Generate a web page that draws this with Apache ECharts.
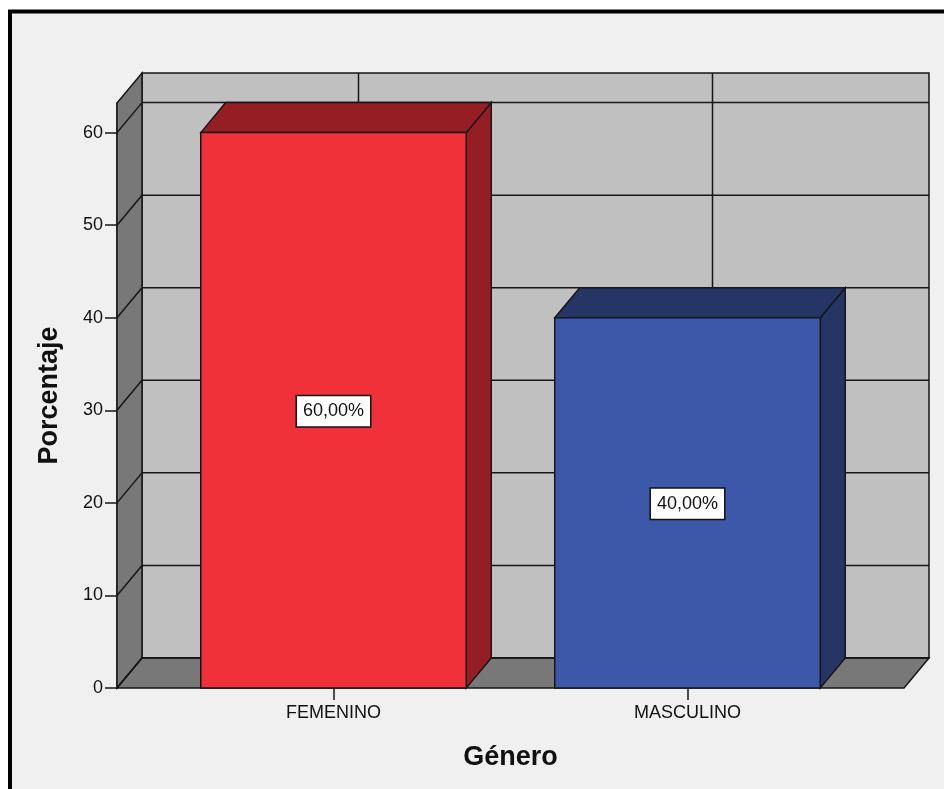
<!DOCTYPE html>
<html>
<head>
<meta charset="utf-8">
<script src="https://cdn.jsdelivr.net/npm/echarts@6/dist/echarts.min.js"></script>
<style>
  html, body { margin: 0; padding: 0; background: #ffffff; }
  #chart { width: 944px; height: 789px; }
</style>
</head>
<body>
<div id="chart"></div>
<script>
// ---- data ----
const categories = ['FEMENINO', 'MASCULINO'];
const percentages = [60, 40];
const yTicks = [0, 10, 20, 30, 40, 50, 60];
const yMax = 63.2;
const yTitle = 'Porcentaje';
const xTitle = 'Género';

// ---- style constants ----
const FONT = '"Liberation Sans", Arial, sans-serif';
const DX = 25, DY = -30;          // 3D depth offset (px)
const SIDE_PAD = 0.1116;          // floor padding beyond first/last band (fraction of band)
const BAR_RATIO = 0.75;
const LINE = '#161616';
const LW = 1.5;
const barFront = ['#f0313a', '#3d57a9'];
const barDark = ['#951e24', '#243566'];

function fmtPct(v) { return v.toFixed(2).replace('.', ',') + '%'; }

function renderWalls(params, api) {
  const cs = params.coordSys;
  const band = api.size([1, 0])[0];
  const pad = band * SIDE_PAD;
  const xL = cs.x - pad, xR = cs.x + cs.width + pad;
  const y0 = api.coord([0, 0])[1];
  const yT = cs.y;
  const st = { stroke: LINE, lineWidth: LW };
  const children = [];
  // back wall
  children.push({ type: 'rect', shape: { x: xL + DX, y: yT + DY, width: xR - xL, height: y0 - yT },
    style: Object.assign({ fill: '#c0c0c0' }, st) });
  // left side wall
  children.push({ type: 'polygon', shape: { points: [[xL, yT], [xL + DX, yT + DY], [xL + DX, y0 + DY], [xL, y0]] },
    style: Object.assign({ fill: '#787878' }, st) });
  // floor
  children.push({ type: 'polygon', shape: { points: [[xL, y0], [xL + DX, y0 + DY], [xR + DX, y0 + DY], [xR, y0]] },
    style: Object.assign({ fill: '#787878' }, st) });
  // grid lines
  yTicks.forEach(function (t) {
    const y = api.coord([0, t])[1];
    children.push({ type: 'line', shape: { x1: xL + DX, y1: y + DY, x2: xR + DX, y2: y + DY }, style: st });
    children.push({ type: 'line', shape: { x1: xL, y1: y, x2: xL + DX, y2: y + DY }, style: st });
  });
  categories.forEach(function (c, i) {
    const x = api.coord([i, 0])[0] + DX;
    children.push({ type: 'line', shape: { x1: x, y1: yT + DY, x2: x, y2: y0 + DY }, style: st });
  });
  return { type: 'group', children: children };
}

function renderBar(params, api) {
  const i = api.value(0), v = api.value(1);
  const p = api.coord([i, v]);
  const cx = p[0], yv = p[1];
  const y0 = api.coord([i, 0])[1];
  const yMid = api.coord([i, v / 2])[1];
  const bw = api.size([1, 0])[0] * BAR_RATIO;
  const l = cx - bw / 2, r = cx + bw / 2;
  const st = { stroke: LINE, lineWidth: LW };
  return {
    type: 'group',
    children: [
      { type: 'polygon', shape: { points: [[r, yv], [r + DX, yv + DY], [r + DX, y0 + DY], [r, y0]] },
        style: Object.assign({ fill: barDark[i] }, st) },
      { type: 'polygon', shape: { points: [[l, yv], [l + DX, yv + DY], [r + DX, yv + DY], [r, yv]] },
        style: Object.assign({ fill: barDark[i] }, st) },
      { type: 'rect', shape: { x: l, y: yv, width: bw, height: y0 - yv },
        style: Object.assign({ fill: barFront[i] }, st) },
      { type: 'text', x: cx, y: yMid + 1,
        style: { text: fmtPct(v), align: 'center', verticalAlign: 'middle',
          font: '18px ' + FONT, fill: '#111', backgroundColor: '#ffffff',
          borderColor: '#111', borderWidth: 1.5, padding: [6, 6, 6, 6] } }
    ]
  };
}

const chart = echarts.init(document.getElementById('chart'));
chart.setOption({
  animation: false,
  backgroundColor: 'transparent',
  graphic: [{
    type: 'rect', z: -100, silent: true,
    shape: { x: 10, y: 11.5, width: 1000, height: 1000 },
    style: { fill: '#f0f0f0', stroke: '#000', lineWidth: 4 }
  }],
  grid: { left: 156.5, right: 79.5, top: 103, bottom: 101, containLabel: false },
  xAxis: {
    type: 'category', data: categories,
    name: xTitle, nameLocation: 'middle', nameGap: 56,
    nameTextStyle: { fontFamily: FONT, fontSize: 27, fontWeight: 'bold', color: '#111' },
    axisLine: { show: false },
    axisTick: { show: true, alignWithLabel: true, length: 12, lineStyle: { color: LINE, width: LW } },
    axisLabel: { margin: 16, fontFamily: FONT, fontSize: 18, color: '#111' },
    splitLine: { show: false }
  },
  yAxis: {
    type: 'value', min: 0, max: yMax, offset: 39.5,
    name: yTitle, nameLocation: 'middle', nameGap: 54,
    nameTextStyle: { fontFamily: FONT, fontSize: 27, fontWeight: 'bold', color: '#111' },
    axisLine: { show: true, lineStyle: { color: LINE, width: LW } },
    axisTick: { show: true, length: 12, customValues: yTicks, lineStyle: { color: LINE, width: LW } },
    axisLabel: { margin: 14, customValues: yTicks, fontFamily: FONT, fontSize: 18, color: '#111' },
    splitLine: { show: false }
  },
  series: [
    { type: 'custom', z: 1, clip: false, silent: true, renderItem: renderWalls, data: [[0, 0]] },
    { type: 'custom', z: 2, clip: false, silent: true, renderItem: renderBar,
      data: categories.map(function (c, i) { return [i, percentages[i]]; }) }
  ]
});
</script>
</body>
</html>
